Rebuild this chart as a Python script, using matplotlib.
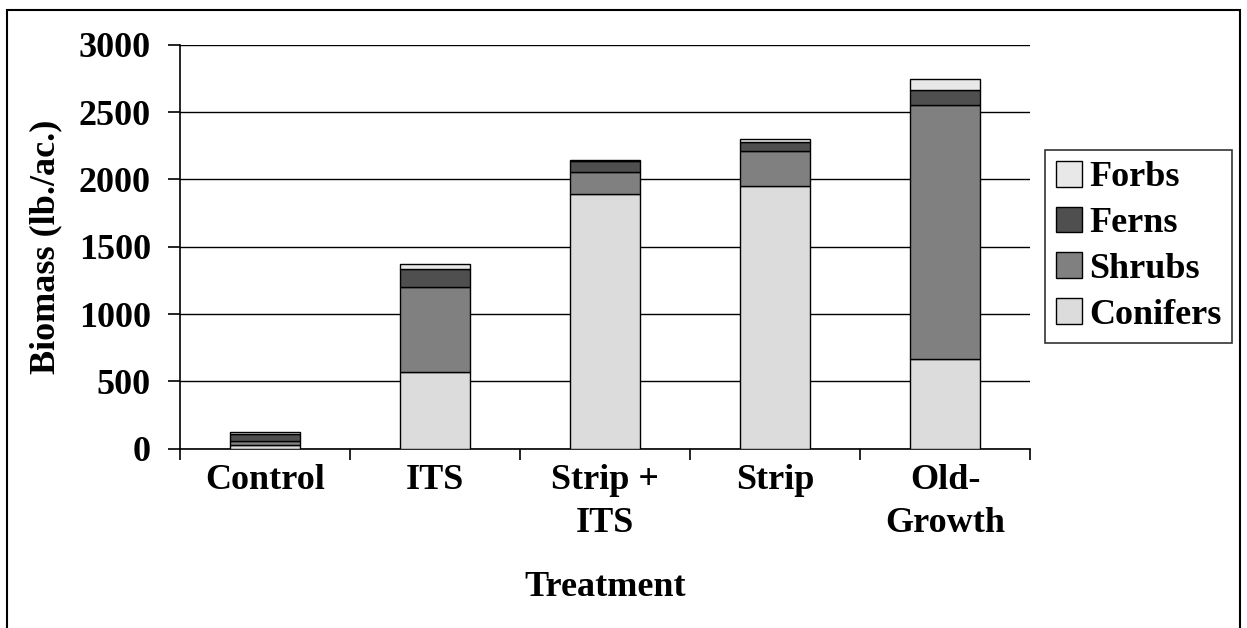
import matplotlib
matplotlib.use("Agg")
import matplotlib.pyplot as plt
from matplotlib.patches import Rectangle
import numpy as np

# Understory biomass by treatment (lb./ac.)
treatments = ["Control", "ITS", "Strip +\nITS", "Strip", "Old-\nGrowth"]
conifers = [30, 572, 1893, 1950, 665]
shrubs = [30, 631, 164, 262, 1890]
ferns = [50, 130, 77, 68, 105]
forbs = [12, 37, 8, 17, 83]

layer_names = ["Conifers", "Shrubs", "Ferns", "Forbs"]
layer_colors = ["#DCDCDC", "#808080", "#4F4F4F", "#E8E8E8"]
y_ticks = [0, 500, 1000, 1500, 2000, 2500, 3000]

plt.rcParams["font.family"] = ["Liberation Serif", "DejaVu Serif"]
plt.rcParams["font.weight"] = "bold"
FS = 26

fig = plt.figure(figsize=(12.47, 6.28), dpi=100)
ax = fig.add_axes([0.1443, 0.2855, 0.826 - 0.1443, 0.9288 - 0.2855])

x = np.arange(len(treatments))
bottom = np.zeros(len(treatments))
handles = []
for name, vals, col in zip(layer_names, [conifers, shrubs, ferns, forbs], layer_colors):
    h = ax.bar(x, vals, width=0.41, bottom=bottom, color=col, edgecolor="black",
               linewidth=1.0, label=name, zorder=3)
    handles.append(h)
    bottom += np.array(vals)

ax.set_xlim(-0.5, len(treatments) - 0.5)
ax.set_ylim(0, 3000)
ax.set_yticks(y_ticks)
ax.yaxis.grid(True, color="black", linewidth=1.0, zorder=0)
ax.set_axisbelow(True)

# category boundaries carry the tick marks, centers carry the labels
ax.set_xticks(np.arange(-0.5, len(treatments) + 0.5, 1.0))
ax.set_xticklabels([])
ax.set_xticks(x, minor=True)
ax.set_xticklabels(treatments, minor=True, fontsize=FS, fontweight="bold",
                   linespacing=1.42, va="top")
ax.tick_params(axis="x", which="major", direction="out", length=8, width=1.2, color="black")
ax.tick_params(axis="x", which="minor", length=0, pad=11)
ax.tick_params(axis="y", direction="out", length=9, width=1.2, pad=12, labelsize=FS)
for lbl in ax.get_yticklabels():
    lbl.set_fontweight("bold")

for side in ["top", "right"]:
    ax.spines[side].set_visible(False)
ax.spines["left"].set_linewidth(1.2)
ax.spines["bottom"].set_linewidth(1.2)

ax.set_ylabel("Biomass (lb./ac.)", fontsize=FS, fontweight="bold", labelpad=12)
ax.set_xlabel("Treatment", fontsize=FS, fontweight="bold", labelpad=22)

leg = fig.legend(handles[::-1], layer_names[::-1], loc="upper left",
                 bbox_to_anchor=(0.838, 0.761), frameon=True, fancybox=False,
                 edgecolor="black", prop={"size": FS, "weight": "bold"},
                 handlelength=0.72, handleheight=0.72, handletextpad=0.2,
                 labelspacing=0.34, borderpad=0.3, borderaxespad=0)
leg.get_frame().set_linewidth(1.2)

# outer chart frame
fig.patches.append(Rectangle((0.0056, -0.05), 0.9888, 0.984 + 0.05,
                             transform=fig.transFigure, fill=False,
                             edgecolor="black", linewidth=1.5, zorder=0))

fig.savefig("out.png", dpi=100)
